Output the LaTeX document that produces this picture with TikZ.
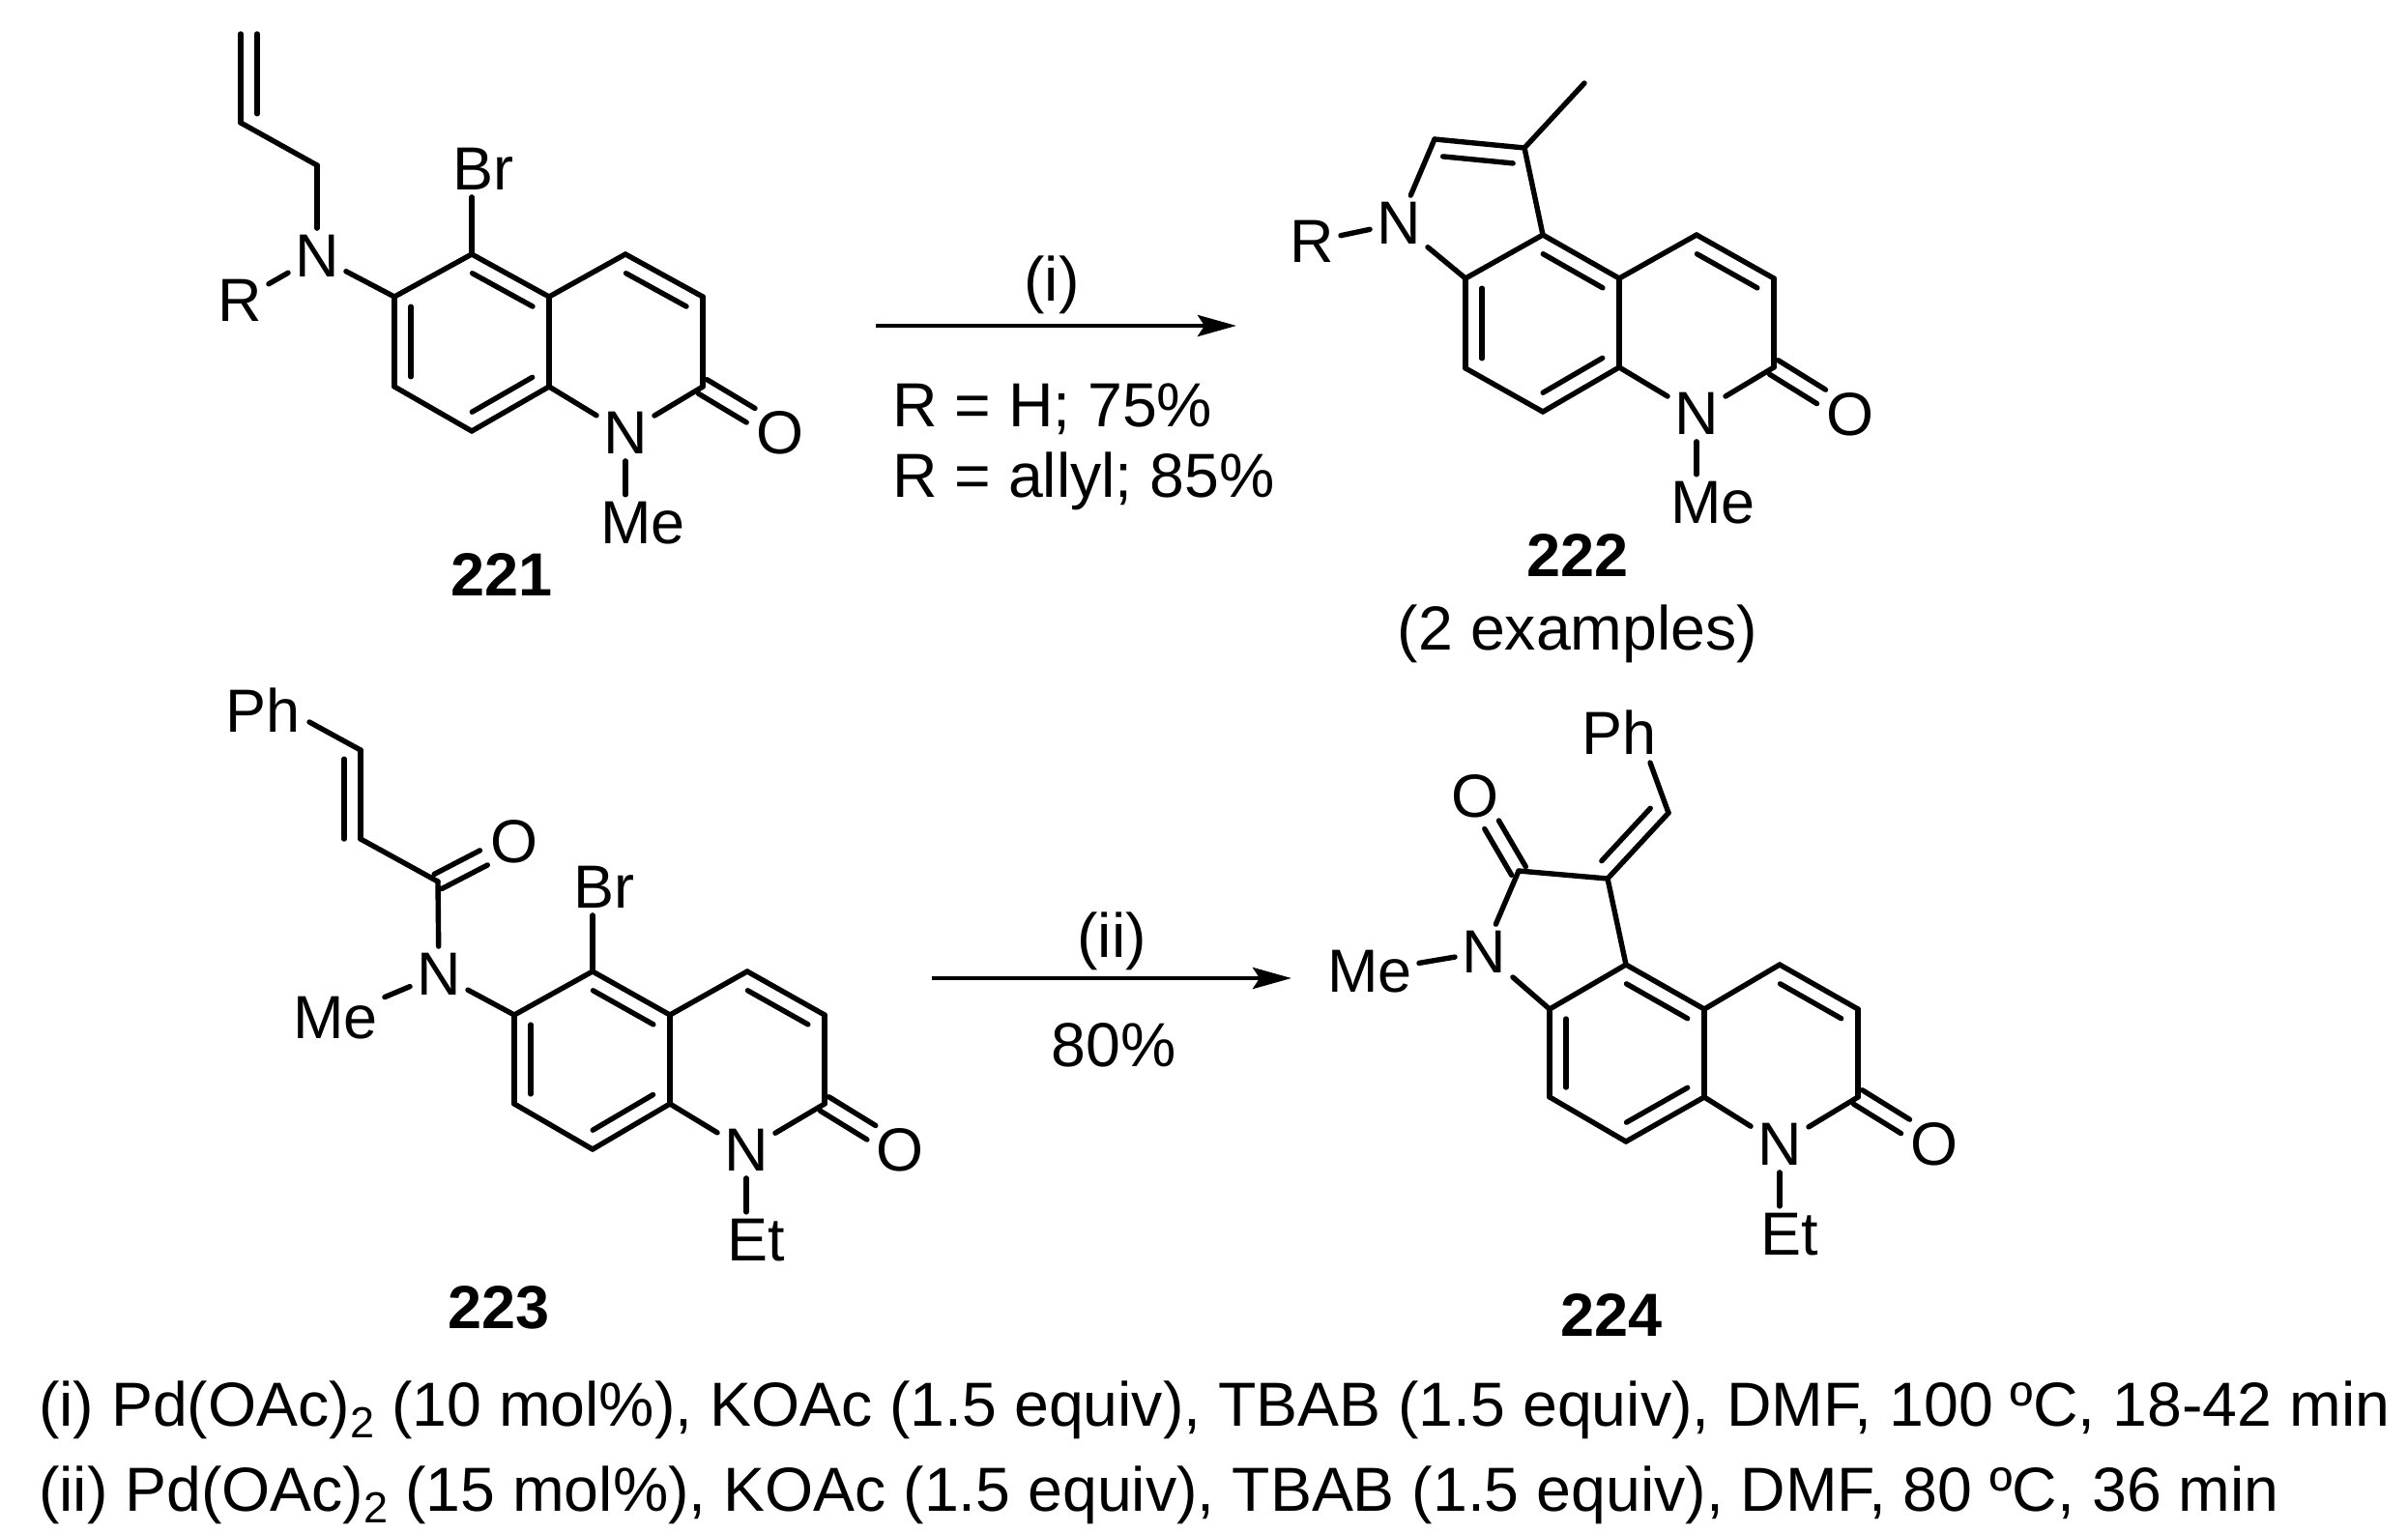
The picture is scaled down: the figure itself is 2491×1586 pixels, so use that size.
\documentclass[tikz,border=0pt]{standalone}
\usepackage{fontspec}
\setmainfont{Liberation Sans}
\usetikzlibrary{calc,arrows.meta}
\tikzset{
  bond/.style={line width=5.4pt,line cap=round,line join=round,black},
  atom/.style={inner sep=7pt,font=\fontsize{63}{63}\selectfont},
  lab/.style={inner sep=0pt,font=\fontsize{64.4}{64}\selectfont},
  cmp/.style={inner sep=0pt,font=\fontsize{63}{63}\selectfont\bfseries},
  cond/.style={inner sep=0pt,anchor=base west,font=\fontsize{64.4}{64}\selectfont},
  arrowline/.style={line width=4.5pt,-{Stealth[length=40pt,width=22pt,inset=7pt]}}
}
\newcommand\dbl[6]{\draw[bond] (#1)--(#2); \draw[bond] ($(#1)!#5!(#2)!17pt!#3:(#2)$) -- ($(#2)!#6!(#1)!17pt!#4:(#1)$);}
\newcommand\dblL[2]{\dbl{#1}{#2}{90}{-90}{.11}{.11}}
\newcommand\dblR[2]{\dbl{#1}{#2}{-90}{90}{.11}{.11}}
\newcommand\dblC[3]{\draw[bond] ($(#1)!8.5pt!90:(#2)$) -- ($(#1)!#3!(#2)!8.5pt!90:(#2)$); \draw[bond] ($(#1)!8.5pt!-90:(#2)$) -- ($(#1)!#3!(#2)!8.5pt!-90:(#2)$);}
\newcommand\quin[1]{%
  \dblL{#1a}{#1f}\draw[bond] (#1a)--(#1b);\dblR{#1b}{#1c}\draw[bond] (#1c)--(#1d);
  \dblR{#1d}{#1e}\draw[bond] (#1e)--(#1f);\draw[bond] (#1c)--(#1g);\dblR{#1g}{#1h}
  \draw[bond] (#1h)--(#1i);\draw[bond] (#1d)--(#1n);\draw[bond] (#1i)--(#1n);\dblC{#1i}{#1o}{.62}}
\newcommand\subtwo{\raisebox{-.2em}{\fontsize{45}{45}\selectfont 2}}
\begin{document}
\begin{tikzpicture}[x=1pt,y=-1pt]
\useasboundingbox (0,0) rectangle (2491,1586);
% ---- 221
\coordinate (Aa) at (408,307);\coordinate (Ab) at (488,263);\coordinate (Ac) at (568,307);
\coordinate (Ad) at (568,400);\coordinate (Ae) at (488,446);\coordinate (Af) at (408,400);
\coordinate (Ag) at (647,263);\coordinate (Ah) at (727,307);\coordinate (Ai) at (727,400);
\node[atom] (An) at (647,448) {N};\node[atom] (Ao) at (807,448) {O};
\node[atom,anchor=center] (Ame) at (665,541) {Me};
\node[atom] (Abr) at (500,175) {Br};
\node[atom] (AN) at (328,265) {N};
\node[atom] (AR) at (248,311) {R};
\coordinate (Ach2) at (328,171);\coordinate (Avi) at (249,127);\coordinate (Ate) at (249,35);
\quin{A}
\draw[bond] (An) -- (An|-Ame.north);
\draw[bond] (Ab) -- (Ab|-Abr.south);
\draw[bond] (AN) -- (Aa);\draw[bond] (AN) -- (AR);\draw[bond] (AN) -- (Ach2);\draw[bond] (Ach2) -- (Avi);
\dbl{Avi}{Ate}{-90}{90}{.1}{0}
\node[cmp] (Alab) at (519,595) {221};
% ---- 222
\coordinate (Ba) at (1516,288);\coordinate (Bb) at (1596,243);\coordinate (Bc) at (1675,288);
\coordinate (Bd) at (1675,380);\coordinate (Be) at (1596,426);\coordinate (Bf) at (1516,381);
\coordinate (Bg) at (1755,243);\coordinate (Bh) at (1835,288);\coordinate (Bi) at (1835,380);
\node[atom] (Bn) at (1755,428) {N};\node[atom] (Bo) at (1914,429) {O};
\node[atom] (Bme) at (1772,520) {Me};
\node[atom] (BN) at (1447,231) {N};\node[atom] (BR) at (1357,250) {R};
\coordinate (Bp) at (1484,144);\coordinate (Bq) at (1577,153);\coordinate (Bm) at (1639,86);
\quin{B}
\draw[bond] (Bn) -- (Bn|-Bme.north);
\draw[bond] (BN) -- (Ba);\draw[bond] (BN) -- (BR);\draw[bond] (BN) -- (Bp);
\dblR{Bp}{Bq}\draw[bond] (Bq) -- (Bb);\draw[bond] (Bq) -- (Bm);
\node[cmp] (Blab) at (1632,575) {222};
\node[lab] (Bex) at (1632,656) {(2 examples)};
% ---- 223
\coordinate (Ca) at (532,1050);\coordinate (Cb) at (613,1005);\coordinate (Cc) at (693,1050);
\coordinate (Cd) at (693,1142);\coordinate (Ce) at (613,1189);\coordinate (Cf) at (532,1142);
\coordinate (Cg) at (773,1005);\coordinate (Ch) at (853,1050);\coordinate (Ci) at (853,1142);
\node[atom] (Cn) at (772,1190) {N};\node[atom] (Co) at (931,1190) {O};
\node[atom] (Cet) at (782,1283) {Et};\node[atom] (Cbr) at (625,918) {Br};
\node[atom] (CN) at (454,1008) {N};\node[atom] (Cme) at (347,1053) {Me};
\coordinate (Ck) at (453,912);\node[atom] (Ck0) at (532,871) {O};
\coordinate (Cv) at (373,868);\coordinate (Cw) at (373,776);
\node[atom] (Cph) at (272,735) {Ph};\coordinate (Cpe) at (320,747);
\quin{C}
\draw[bond] (Cn) -- (Cn|-Cet.north);
\draw[bond] (Cb) -- (Cb|-Cbr.south);
\draw[bond] (CN) -- (Ca);\draw[bond] (CN) -- (Cme);\draw[bond] (CN) -- (Ck);
\dblC{Ck}{Ck0}{.6}
\draw[bond] (Ck) -- (Cv);\dbl{Cv}{Cw}{90}{-90}{0}{.1}\draw[bond] (Cw) -- (Cpe);
\node[cmp] (Clab) at (516,1353) {223};
% ---- 224
\coordinate (Da) at (1603,1044);\coordinate (Db) at (1682,998);\coordinate (Dc) at (1763,1044);
\coordinate (Dd) at (1763,1135);\coordinate (De) at (1682,1181);\coordinate (Df) at (1603,1135);
\coordinate (Dg) at (1841,998);\coordinate (Dh) at (1922,1044);\coordinate (Di) at (1922,1135);
\node[atom] (Dn) at (1841,1184) {N};\node[atom] (Do) at (2001,1184) {O};
\node[atom] (Det) at (1851,1277) {Et};
\node[atom] (DN) at (1535,985) {N};\node[atom] (Dme) at (1417,1005) {Me};
\coordinate (Dk) at (1571,901);\node[atom] (Dk0) at (1526,824) {O};
\coordinate (Dq) at (1663,909);\coordinate (Dv) at (1726,841);
\node[atom] (Dph) at (1675,758) {Ph};\coordinate (Dpe) at (1707,789);
\quin{D}
\draw[bond] (Dn) -- (Dn|-Det.north);
\draw[bond] (DN) -- (Da);\draw[bond] (DN) -- (Dme);\draw[bond] (DN) -- (Dk);
\dblC{Dk}{Dk0}{.62}
\draw[bond] (Dk) -- (Dq);\draw[bond] (Dq) -- (Db);
\dbl{Dq}{Dv}{90}{-90}{.1}{.1}\draw[bond] (Dv) -- (Dpe);
\node[cmp] (Dlab) at (1667,1360) {224};
% ---- arrows
\coordinate (r1s) at (906,337);\coordinate (r1e) at (1279,337);
\draw[arrowline] (r1s) -- (r1e);
\node[lab] (r1t) at (1088,295) {(i)};
\node[lab,anchor=base west] (r1a) at (923,441) {R = H; 75\%};
\node[lab,anchor=base west] (r1b) at (923,514) {R = allyl; 85\%};
\coordinate (r2s) at (964,1012);\coordinate (r2e) at (1336,1012);
\draw[arrowline] (r2s) -- (r2e);
\node[lab] (r2t) at (1150,974) {(ii)};
\node[lab] (r2b) at (1152,1081) {80\%};
% ---- conditions
\node[cond] (c1) at (40,1475) {(i) Pd(OAc)\subtwo{} (10 mol\%), KOAc (1.5 equiv), TBAB (1.5 equiv), DMF, 100 ºC, 18-42 min};
\node[cond] (c2) at (40,1563) {(ii) Pd(OAc)\subtwo{} (15 mol\%), KOAc (1.5 equiv), TBAB (1.5 equiv), DMF, 80 ºC, 36 min};
\end{tikzpicture}
\end{document}
